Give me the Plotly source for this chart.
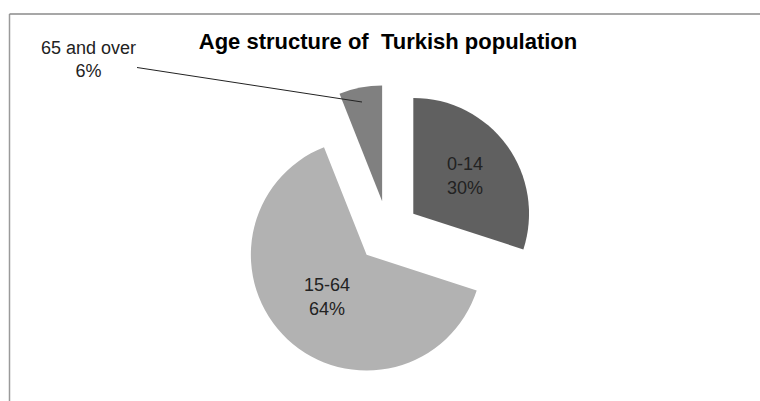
import plotly.graph_objects as go

categories = ["0-14", "15-64", "65 and over"]
shares = [30, 64, 6]
colors = ["#606060", "#b2b2b2", "#808080"]
title_text = "Age structure of \u00a0Turkish population"

W, H = 760, 401

fig = go.Figure()
fig.add_trace(go.Pie(
    labels=categories,
    values=shares,
    sort=False,
    direction="clockwise",
    rotation=0,
    pull=[0.27, 0.27, 0.27],
    marker=dict(colors=colors, line=dict(width=0)),
    texttemplate=["%{label}<br>%{percent:.0%}", "%{label}<br>%{percent:.0%}", ""],
    textposition="inside",
    insidetextorientation="horizontal",
    textfont=dict(family="Liberation Sans", size=18, color="#222222"),
    domain=dict(x=[241 / W, 535 / W], y=[22 / H, 316 / H]),
    showlegend=False,
    hoverinfo="label+percent",
))

# label for the small slice with leader line
fig.add_annotation(
    xref="paper", yref="paper",
    x=362 / W, y=1 - 102 / H,
    ax=88 - 362, ay=60 - 102,
    text=f"{categories[2]}<br>{shares[2]}%",
    showarrow=True, arrowhead=0, arrowwidth=1, arrowcolor="#222222",
    font=dict(family="Liberation Sans", size=18, color="#222222"),
    align="center",
)

# chart-area frame (left and top edges visible)
fig.add_shape(type="line", xref="paper", yref="paper",
              x0=9.5 / W, y0=0, x1=9.5 / W, y1=1 - 14 / H,
              line=dict(color="#9a9a9a", width=1.5))
fig.add_shape(type="line", xref="paper", yref="paper",
              x0=9.5 / W, y0=1 - 14 / H, x1=1, y1=1 - 14 / H,
              line=dict(color="#8a8a8a", width=1.5))

fig.update_layout(
    width=W, height=H,
    margin=dict(l=0, r=0, t=0, b=0),
    paper_bgcolor="white",
    plot_bgcolor="white",
    title=dict(text=f"<b>{title_text}</b>", x=388 / W, xanchor="center",
               y=1 - 41 / H, yanchor="middle",
               font=dict(family="Liberation Sans", size=22, color="#000000")),
)

fig.write_html(
    "out.html",
    config={"displayModeBar": False},
    post_script="document.body.style.margin='0';document.body.style.overflow='hidden';",
)
